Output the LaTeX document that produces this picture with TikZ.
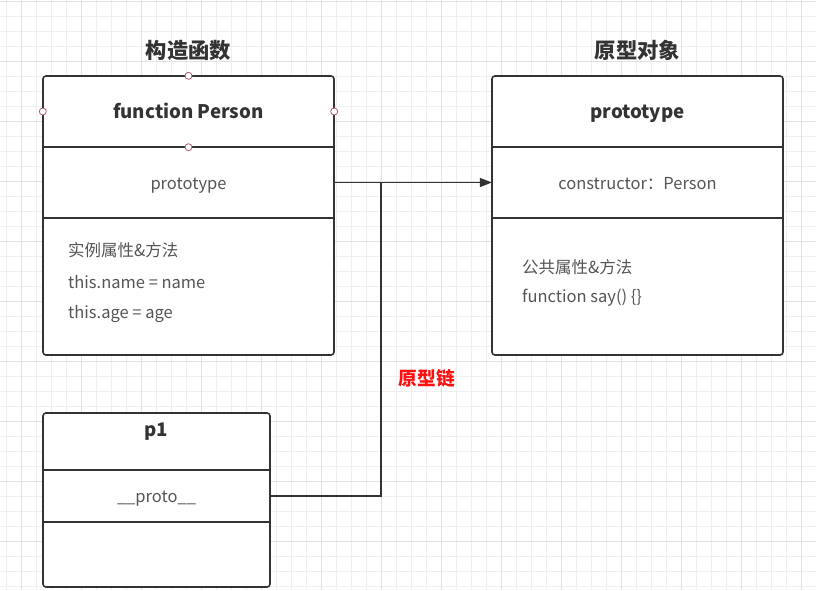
\documentclass[tikz,border=0pt]{standalone}
\usepackage{fontspec}
\setmainfont{Noto Sans CJK SC}
\usepackage{tikz}
\usetikzlibrary{arrows.meta, positioning, calc}

\definecolor{linedark}{HTML}{333333}
\definecolor{textgray}{HTML}{555555}
\definecolor{handlered}{HTML}{B05A70}
\definecolor{chainred}{HTML}{FF1010}
\definecolor{gridminor}{HTML}{EFEFEF}
\definecolor{gridmajor}{HTML}{E2E2E2}

\begin{document}
\begin{tikzpicture}[
    x=1pt, y=-1pt,
    frame/.style={rectangle, draw=linedark, line width=1.6pt, rounded corners=3pt, fill=white, inner sep=0pt},
    row/.style={rectangle, inner sep=0pt, align=center, text=textgray, font=\fontsize{16.5}{20}\selectfont, text height=0.8em, text depth=0.25em},
    rowtext/.style={row, yshift=-4pt},
    headrow/.style={rowtext, text=linedark, font=\fontsize{18.7}{22}\selectfont\bfseries},
    divider/.style={draw=linedark, line width=1.6pt},
    title/.style={font=\fontsize{21.3}{25}\selectfont\bfseries, text=linedark},
    member/.style={anchor=west, inner sep=0pt, text=textgray, font=\fontsize{16.5}{20}\selectfont},
    handle/.style={circle, draw=handlered, fill=white, line width=0.8pt, minimum size=7pt, inner sep=0pt},
    arrow/.style={-{Triangle[length=12pt, width=9pt]}, line width=1.6pt, draw=linedark},
    link/.style={line width=1.6pt, draw=linedark}
]
\useasboundingbox (0,0) rectangle (816,590);

% Grid paper
\fill[white] (0,0) rectangle (816,590);
\foreach \gx in {6.7,21.7,...,816} \draw[gridminor, line width=0.8pt] (\gx,0) -- (\gx,590);
\foreach \gy in {1,16,...,590} \draw[gridminor, line width=0.8pt] (0,\gy) -- (816,\gy);
\foreach \gx in {21.7,81.7,...,816} \draw[gridmajor, line width=0.9pt] (\gx,0) -- (\gx,590);
\foreach \gy in {1,61,...,590} \draw[gridmajor, line width=0.9pt] (0,\gy) -- (816,\gy);

% Titles
\node[title] (ctortitle) at (188.5,50) {构造函数};
\node[title] (prototitle) at (637.5,50) {原型对象};

% Constructor
\node[frame, minimum width=291pt, minimum height=279pt] (ctor) at (188.5,215.5) {};
\node[row, minimum width=291pt, minimum height=71pt] (ctorhead) at (188.5,111.5) {};
\node[row, minimum width=291pt, minimum height=71pt] (ctorproto) at (188.5,182.5) {};
\node[headrow] (ctorname) at (ctorhead) {function Person};
\node[rowtext] (ctorprotolabel) at (ctorproto) {prototype};
\draw[divider] (ctorhead.south west) -- (ctorhead.south east);
\draw[divider] (ctorproto.south west) -- (ctorproto.south east);
\node[member] (ctorm1) at (68,250) {实例属性\&方法};
\node[member] (ctorm2) at (68,282) {this.name = name};
\node[member] (ctorm3) at (68,314) {this.age = age};

% Selection handles
\node[handle] (hn) at (ctorhead.north) {};
\node[handle] (hw) at (ctorhead.west) {};
\node[handle] (he) at (ctorhead.east) {};
\node[handle] (hs) at (ctorhead.south) {};

% Prototype object
\node[frame, minimum width=291pt, minimum height=279pt] (proto) at (637.5,215.5) {};
\node[row, minimum width=291pt, minimum height=71pt] (protohead) at (637.5,111.5) {};
\node[row, minimum width=291pt, minimum height=71pt] (protocons) at (637.5,182.5) {};
\node[headrow] (protoname) at (protohead) {prototype};
\node[rowtext] (protoconslabel) at (protocons) {constructor：Person};
\draw[divider] (protohead.south west) -- (protohead.south east);
\draw[divider] (protocons.south west) -- (protocons.south east);
\node[member] (protom1) at (522,267) {公共属性\&方法};
\node[member] (protom2) at (522,298) {function say() \{\}};

% Instance
\node[frame, minimum width=227pt, minimum height=174pt] (p1) at (156.5,500) {};
\node[row, minimum width=227pt, minimum height=57pt] (p1head) at (156.5,441.5) {};
\node[row, minimum width=227pt, minimum height=52pt] (p1proto) at (156.5,496) {};
\node[headrow] (p1name) at (156.5,430) {p1};
\node[rowtext] (p1protolabel) at (p1proto) {\_\_proto\_\_};
\draw[divider] (p1head.south west) -- (p1head.south east);
\draw[divider] (p1proto.south west) -- (p1proto.south east);

% Connectors
\coordinate (chainjoin) at (381,182.5);
\draw[arrow] (ctorproto.east) -- (protocons.west);
\draw[link] (p1proto.east) -| (chainjoin);

\node[font=\fontsize{18.7}{22}\selectfont\bfseries, text=chainred] (chain) at (427,378) {原型链};

\end{tikzpicture}
\end{document}
